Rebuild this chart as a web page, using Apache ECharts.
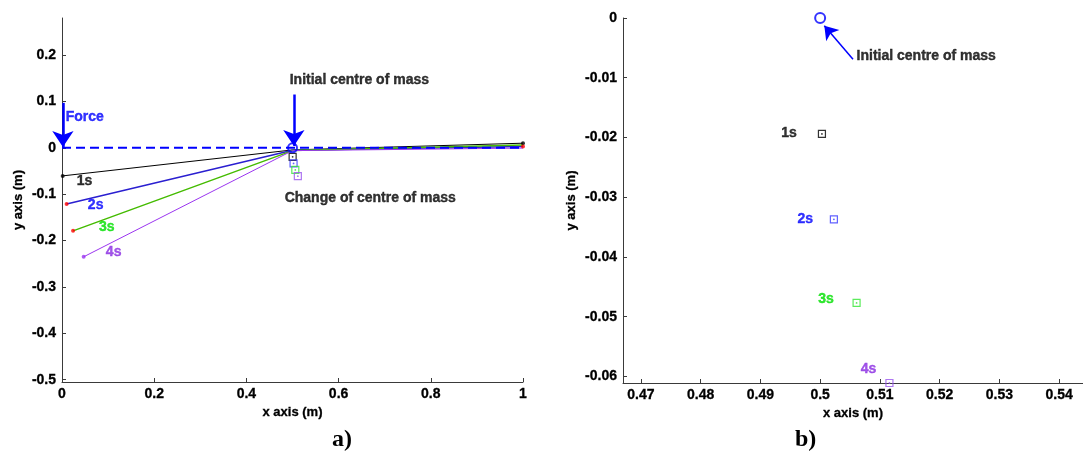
<!DOCTYPE html>
<html>
<head>
<meta charset="utf-8">
<script src="https://cdn.jsdelivr.net/npm/echarts@6/dist/echarts.min.js"></script>
<style>
html,body{margin:0;padding:0;background:#fff;}
#c{width:1083px;height:465px;}
</style>
</head>
<body>
<div id="c"></div>
<script>
// ---- data ----
const timeLabels = ['1s', '2s', '3s', '4s'];
// beam polylines (left end, middle, right end) at each time
const beam1s = [[0.0015, -0.0605], [0.5, -0.0045], [1.0, 0.010]];
const beam2s = [[0.010, -0.121], [0.5, -0.005], [1.0, 0.003]];
const beam3s = [[0.024, -0.179], [0.5, -0.006], [1.0, 0.006]];
const beam4s = [[0.047, -0.235], [0.5, -0.006], [1.0, -0.0005]];
const initialBeam = [[0, 0], [1, 0]];
const initialCentre = [0.5, 0];
// centre of mass at each time
const centreX = [0.5003, 0.5023, 0.5061, 0.5116];
const centreY = [-0.0194, -0.0337, -0.0477, -0.0611];
// tick values
const leftXTicks = [0, 0.2, 0.4, 0.6, 0.8, 1];
const leftYTicks = [0.2, 0.1, 0, -0.1, -0.2, -0.3, -0.4, -0.5];
const rightXTicks = [0.47, 0.48, 0.49, 0.5, 0.51, 0.52, 0.53, 0.54];
const rightYTicks = [0, -0.01, -0.02, -0.03, -0.04, -0.05, -0.06];
// annotation positions (data coords)
const leftTimeLabelPos = [[0.049, -0.071], [0.073, -0.123], [0.097, -0.171], [0.112, -0.225]];
const rightTimeLabelPos = [[0.4948, -0.0192], [0.4975, -0.0336], [0.5010, -0.0470], [0.5081, -0.0587]];
const forceArrow = [[0.002, 0.097], [0.002, 0.002]];
const centreArrowLeft = [[0.503, 0.115], [0.503, 0.004]];
const centreArrowRight = [[0.5055, -0.0069], [0.5007, -0.0013]];

const lineColors = ['#000000', '#2a1fd0', '#44bb00', '#9b35f0'];
const labelColors = ['#000000', '#0000ff', '#00e000', '#8a2be2'];
const squareColors = ['#000000', '#3a3aff', '#33e633', '#9a55ee'];
const leftEndColors = ['#000000', '#ff0000', '#ff0000', '#9b35f0'];
const FONT = 'Liberation Sans, Arial, sans-serif';

const chart = echarts.init(document.getElementById('c'), null, {renderer: 'canvas'});

function axisCommon(extra) {
  return Object.assign({
    type: 'value',
    splitLine: {show: false},
    axisLine: {show: true, onZero: false, lineStyle: {color: '#3a3a3a', width: 1}},
    nameTextStyle: {color: '#000', fontWeight: 'bold', fontSize: 13, fontFamily: FONT, textBorderColor: '#000', textBorderWidth: 0.3},
    nameLocation: 'middle'
  }, extra);
}
function lab(vals, margin) {
  return {customValues: vals, color: '#000', fontWeight: 'bold', fontSize: 14, fontFamily: FONT, margin: margin,
    textBorderColor: '#000', textBorderWidth: 0.3};
}
function tick(vals) {
  return {show: true, inside: true, length: 4, customValues: vals, lineStyle: {color: '#3a3a3a'}};
}

const beams = [beam1s, beam2s, beam3s, beam4s];
const series = [];

// beam lines
beams.forEach((b, i) => {
  series.push({
    type: 'line', xAxisIndex: 0, yAxisIndex: 0, data: b,
    symbol: 'none', silent: true, animation: false,
    lineStyle: {color: lineColors[i], width: i === 0 || i === 3 ? 1 : 1.5}, z: 2
  });
  series.push({
    type: 'scatter', xAxisIndex: 0, yAxisIndex: 0, data: [b[0]],
    symbol: 'circle', symbolSize: 4, itemStyle: {color: leftEndColors[i]}, animation: false, z: 4
  });
});
series.push({
  type: 'scatter', xAxisIndex: 0, yAxisIndex: 0,
  data: [beam1s[2]], symbol: 'circle', symbolSize: 4, itemStyle: {color: '#000'}, animation: false, z: 4
});
series.push({
  type: 'scatter', xAxisIndex: 0, yAxisIndex: 0,
  data: [beam2s[2]], symbol: 'circle', symbolSize: 4, itemStyle: {color: '#ff0000'}, animation: false, z: 4
});
// dashed initial beam
series.push({
  type: 'line', xAxisIndex: 0, yAxisIndex: 0, data: initialBeam, symbol: 'none', animation: false,
  lineStyle: {color: '#0000ff', width: 2, type: [9, 5]}, z: 3
});

// centre of mass squares in both plots
[0, 1].forEach(ax => {
  centreX.forEach((x, i) => {
    series.push({
      type: 'scatter', xAxisIndex: ax, yAxisIndex: ax, data: [[x, centreY[i]]],
      symbol: 'rect', symbolSize: 7, animation: false, z: 5, clip: false,
      itemStyle: {color: 'rgba(0,0,0,0)', borderColor: squareColors[i], borderWidth: 1.2}
    });
    series.push({
      type: 'scatter', xAxisIndex: ax, yAxisIndex: ax, data: [[x, centreY[i]]],
      symbol: 'circle', symbolSize: 1.8, animation: false, z: 6, clip: false,
      itemStyle: {color: squareColors[i]}
    });
  });
  series.push({
    type: 'scatter', xAxisIndex: ax, yAxisIndex: ax, data: [initialCentre],
    symbol: 'circle', symbolSize: ax === 0 ? 9 : 10, animation: false, z: 6, clip: false,
    itemStyle: {color: 'rgba(0,0,0,0)', borderColor: '#0000ff', borderWidth: 2}
  });
});

// arrows
function arrow(ax, coords, width, size) {
  return {
    type: 'lines', coordinateSystem: 'cartesian2d', xAxisIndex: ax, yAxisIndex: ax, clip: false,
    data: [{coords: coords}], symbol: ['none', 'arrow'], symbolSize: size,
    lineStyle: {color: '#0000ff', width: width, opacity: 1, curveness: 0}, animation: false, z: 7
  };
}
series.push(arrow(0, forceArrow, 2.5, [11, 16]));
series.push(arrow(0, centreArrowLeft, 2.5, [11, 16]));
series.push(arrow(1, centreArrowRight, 1.5, [9, 13]));

// text annotations
function textSeries(ax, items) {
  return {
    type: 'scatter', xAxisIndex: ax, yAxisIndex: ax, symbolSize: 0, animation: false, silent: true, z: 8, clip: false,
    data: items.map(it => ({
      value: it.pos,
      label: {
        show: true, formatter: it.text, position: it.left ? 'right' : 'inside', distance: 0,
        color: it.color, fontWeight: 'bold', fontSize: 14, fontFamily: FONT,
        textBorderColor: it.color, textBorderWidth: 0.4
      }
    }))
  };
}
series.push(textSeries(0, [
  {pos: [0.494, 0.145], text: 'Initial centre of mass', color: '#000', left: true},
  {pos: [0.483, -0.108], text: 'Change of centre of mass', color: '#000', left: true},
  {pos: [0.008, 0.066], text: 'Force', color: '#0000ff', left: true}
].concat(timeLabels.map((t, i) => ({pos: leftTimeLabelPos[i], text: t, color: labelColors[i]})))));
series.push(textSeries(1, [
  {pos: [0.5061, -0.0064], text: 'Initial centre of mass', color: '#000', left: true}
].concat(timeLabels.map((t, i) => ({pos: rightTimeLabelPos[i], text: t, color: labelColors[i]})))));

const option = {
  backgroundColor: '#ffffff',
  animation: false,
  grid: [
    {left: 62, top: 18, width: 461, height: 364},
    {left: 623, top: 18, width: 460, height: 365}
  ],
  xAxis: [
    axisCommon({gridIndex: 0, min: 0, max: 1, name: 'x axis (m)', nameGap: 23,
      axisLabel: lab(leftXTicks, 5), axisTick: tick(leftXTicks)}),
    axisCommon({gridIndex: 1, min: 0.467, max: 0.544, name: 'x axis (m)', nameGap: 23,
      axisLabel: lab(rightXTicks, 5), axisTick: tick(rightXTicks)})
  ],
  yAxis: [
    axisCommon({gridIndex: 0, min: -0.505, max: 0.28, name: 'y axis (m)', nameGap: 37,
      axisLabel: lab(leftYTicks, 6), axisTick: tick(leftYTicks)}),
    axisCommon({gridIndex: 1, min: -0.0611, max: 0, name: 'y axis (m)', nameGap: 45,
      axisLabel: lab(rightYTicks, 6), axisTick: tick(rightYTicks)})
  ],
  graphic: [
    {type: 'text', left: 332, top: 428, style: {text: 'a)', font: 'bold 24px "Liberation Serif", "Times New Roman", serif', fill: '#000'}},
    {type: 'text', left: 795, top: 428, style: {text: 'b)', font: 'bold 24px "Liberation Serif", "Times New Roman", serif', fill: '#000'}}
  ],
  series: series
};
chart.setOption(option);
</script>
</body>
</html>
